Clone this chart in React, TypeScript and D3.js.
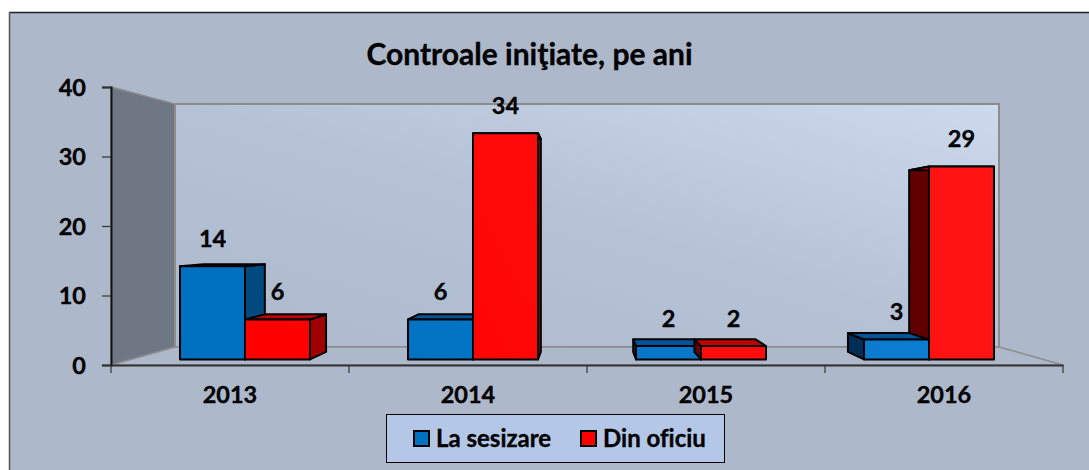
import React, { useEffect, useRef } from 'react';
import * as d3 from 'd3';

const title = 'Controale iniţiate, pe ani';
const years = ['2013', '2014', '2015', '2016'];
const seriesNames = ['La sesizare', 'Din oficiu'];
const laSesizare = [14, 6, 2, 3];
const dinOficiu = [6, 34, 2, 29];
const yTicks = [0, 10, 20, 30, 40];

const font = 'Lato, sans-serif';
const W = 1089;
const H = 470;

// front plane of the 3d box, back wall, and the plane the bars stand on
const yFront = d3.scaleLinear().domain([0, 40]).range([365, 87]);
const yBars = d3.scaleLinear().domain([0, 40]).range([359.4, 93.4]);
const xFront = d3.scaleBand().domain(years).range([111, 1063]);
const x0 = d3.scaleBand().domain(years).range([131, 1043]).paddingInner(0.43).paddingOuter(0.215);
const x1 = d3.scaleBand().domain(seriesNames).range([0, x0.bandwidth()]);

const wall = { left: 175, right: 999, top: 104, bottom: 347 };
const vanish = { x: 587, y: 230, k: 0.058 };

const colors: any = {
  'La sesizare': { front: 'url(#blueFront)', top: '#00559A', right: '#004A80', left: '#002E55', swatch: '#0070C0' },
  'Din oficiu': { front: 'url(#redFront)', top: '#C00000', right: '#A00000', left: '#600000', swatch: '#FF0000' },
};

const back = (x: number, y: number): [number, number] => [
  x + (vanish.x - x) * vanish.k,
  y + (vanish.y - y) * vanish.k,
];

function App() {
  const ref = useRef<SVGSVGElement>(null);

  useEffect(() => {
    const svg = d3.select(ref.current);
    svg.selectAll('*').remove();

    const defs = svg.append('defs');
    const grad = (id: string, x1g: number, y1g: number, x2g: number, y2g: number, stops: string[], units: string) => {
      const g = defs.append('linearGradient').attr('id', id).attr('gradientUnits', units)
        .attr('x1', x1g).attr('y1', y1g).attr('x2', x2g).attr('y2', y2g);
      stops.forEach((c, i) => g.append('stop').attr('offset', i / (stops.length - 1)).attr('stop-color', c));
    };
    grad('wallFill', 0, 1, 1, 0, ['#ADB9CC', '#B5C1D5', '#CDD9EC'], 'objectBoundingBox');
    grad('redFront', 300, 360, 800, 120, ['#FF0000', '#FF1212'], 'userSpaceOnUse');
    grad('blueFront', 300, 360, 900, 340, ['#0070C0', '#0C7CD0'], 'userSpaceOnUse');

    // chart area
    svg.append('rect').attr('x', 9).attr('y', 12).attr('width', W).attr('height', H)
      .attr('fill', '#ADB8CA');
    svg.append('line').attr('x1', 9).attr('x2', W).attr('y1', 12.5).attr('y2', 12.5)
      .attr('stroke', '#222').attr('stroke-width', 1.5);
    svg.append('line').attr('x1', 9.5).attr('x2', 9.5).attr('y1', 12).attr('y2', H)
      .attr('stroke', '#555').attr('stroke-width', 1.5);

    const line = d3.line();
    const [xMin, xMax] = xFront.range();

    // walls
    svg.append('path')
      .attr('d', line([[xMin, yFront(40)], [wall.left, wall.top], [wall.left, wall.bottom], [xMin, yFront(0)]]) + 'Z')
      .attr('fill', '#6F7784').attr('stroke', '#8A8A8A').attr('stroke-width', 1.5);
    svg.append('rect').attr('x', wall.left).attr('y', wall.top)
      .attr('width', wall.right - wall.left).attr('height', wall.bottom - wall.top)
      .attr('fill', 'url(#wallFill)').attr('stroke', '#8C8C8C').attr('stroke-width', 2);
    svg.append('path')
      .attr('d', line([[xMin, yFront(0)], [wall.left, wall.bottom], [wall.right, wall.bottom], [xMax, yFront(0)]]) + 'Z')
      .attr('fill', '#ADB8CA').attr('stroke', '#8C8C8C').attr('stroke-width', 1.5);

    const boldText = (sel: any, size: number) =>
      sel.attr('font-family', font).attr('font-weight', 'bold').attr('font-size', size)
        .attr('fill', '#000').attr('stroke', '#000').attr('stroke-width', 0.35)
        .style('font-variant-ligatures', 'none');

    // axes
    const yAxis = svg.append('g').attr('transform', `translate(${xMin},0)`)
      .call(d3.axisLeft(yFront).tickValues(yTicks).tickSize(9).tickPadding(16));
    yAxis.select('.domain').attr('stroke', '#111').attr('stroke-width', 2);
    yAxis.selectAll('line').attr('stroke', '#333').attr('stroke-width', 1.2);
    boldText(yAxis.selectAll('text'), 23.5).attr('dy', '0.36em');

    const xAxis = svg.append('g').attr('transform', `translate(0,${yFront(0)})`)
      .call(d3.axisBottom(xFront).tickSize(0).tickPadding(21));
    xAxis.select('.domain').attr('stroke', '#333').attr('stroke-width', 2);
    boldText(xAxis.selectAll('text'), 23.5);
    xAxis.selectAll('.sep').data(xFront.domain().concat('end')).enter().append('line')
      .attr('class', 'sep')
      .attr('x1', (d: string) => (d === 'end' ? xMax : xFront(d)!))
      .attr('x2', (d: string) => (d === 'end' ? xMax : xFront(d)!))
      .attr('y1', 0).attr('y2', 8).attr('stroke', '#333').attr('stroke-width', 1.2);

    // bars, painted from the outside in so the faces hide each other properly
    const barsG = svg.append('g');
    const box = (name: string, year: string, value: number) => {
      const c = colors[name];
      const xa = x0(year)! + x1(name)!;
      const xb = xa + x1.bandwidth();
      const yt = yBars(value);
      const yb = yBars(0);
      const g = barsG.append('g').attr('stroke', '#000').attr('stroke-width', 2).attr('stroke-linejoin', 'round');
      const face = (pts: [number, number][], fill: string) =>
        g.append('path').attr('d', line(pts) + 'Z').attr('fill', fill);
      if (xa > vanish.x) face([[xa, yt], back(xa, yt), back(xa, yb), [xa, yb]], c.left);
      if (xb < vanish.x) face([[xb, yt], back(xb, yt), back(xb, yb), [xb, yb]], c.right);
      if (xa < vanish.x && xb > vanish.x) {
        face([[xa, yt], back(xa, yt), back(xa, yb), [xa, yb]], c.left);
      }
      face([[xa, yt], back(xa, yt), back(xb, yt), [xb, yt]], c.top);
      face([[xa, yt], [xb, yt], [xb, yb], [xa, yb]], c.front);
    };
    years.forEach((year, i) => {
      const order = x0(year)! + x0.bandwidth() / 2 > vanish.x + 200 ? [1, 0] : [0, 1];
      order.forEach((s) => box(seriesNames[s], year, s === 0 ? laSesizare[i] : dinOficiu[i]));
    });

    // value labels
    seriesNames.forEach((name, s) => {
      const vals = s === 0 ? laSesizare : dinOficiu;
      const labels = svg.append('g').selectAll('text').data(vals).enter().append('text')
        .attr('x', (_, i) => x0(years[i])! + x1(name)! + x1.bandwidth() / 2)
        .attr('y', (d) => yBars(d) - 28)
        .attr('dy', '0.36em')
        .attr('text-anchor', 'middle')
        .text((d) => d);
      boldText(labels, 23.5);
    });

    // title
    boldText(svg.append('text').attr('x', 529.5).attr('y', 65).attr('text-anchor', 'middle').text(title), 30);

    // legend
    const legend = svg.append('g');
    legend.append('rect').attr('x', 386.5).attr('y', 414.5).attr('width', 338).attr('height', 48)
      .attr('fill', '#B4C7E7').attr('stroke', '#000').attr('stroke-width', 1);
    const legendX = [414, 581];
    seriesNames.forEach((name, i) => {
      legend.append('rect').attr('x', legendX[i]).attr('y', 431).attr('width', 15).attr('height', 15)
        .attr('fill', colors[name].swatch).attr('stroke', '#000').attr('stroke-width', 2);
      boldText(legend.append('text').attr('x', legendX[i] + 22).attr('y', 438).attr('dy', '0.36em').text(name), 24);
    });
  }, []);

  return <svg ref={ref} width={W} height={H} style={{ position: 'absolute', left: 0, top: 0, background: '#fff' }} />;
}

export default App;
